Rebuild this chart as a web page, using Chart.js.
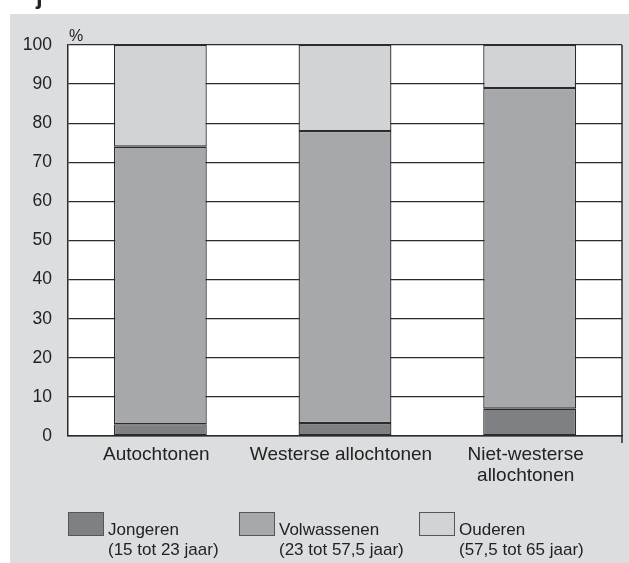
<!DOCTYPE html>
<html>
<head>
<meta charset="utf-8">
<script src="https://cdn.jsdelivr.net/npm/chart.js@4.4.0/dist/chart.umd.min.js"></script>
<style>
    html, body { margin: 0; padding: 0; background: #fff; }
    #wrap { width: 629px; height: 563px; }
</style>
</head>
<body>
<div id="wrap"><canvas id="chart" width="629" height="563"></canvas></div>
<script>
// categorieën en waarden (% per groep)
const categories = ['Autochtonen', 'Westerse allochtonen', ['Niet-westerse', 'allochtonen']];
const jongeren = [3, 3.3, 7];
const volwassenen = [71, 74.7, 82];
const ouderen = [26, 22, 11];

const seriesNames = ['Jongeren', 'Volwassenen', 'Ouderen'];
const seriesSub = ['(15 tot 23 jaar)', '(23 tot 57,5 jaar)', '(57,5 tot 65 jaar)'];
const seriesColors = ['#7f8083', '#a7a8ab', '#d2d3d5'];

const FONT = 'Arial, "Liberation Sans", sans-serif';
const DARK = '#2b2b2b';

// achtergrond: grijs vlak en wit plotgebied
const backgroundPlugin = {
    id: 'background',
    beforeDraw(chart) {
        const ctx = chart.ctx;
        const area = chart.chartArea;
        ctx.save();
        ctx.fillStyle = '#ffffff';
        ctx.fillRect(0, 0, chart.width, chart.height);
        ctx.fillStyle = '#dcdddf';
        ctx.fillRect(10, 14, chart.width - 10, chart.height - 14);
        ctx.fillStyle = '#ffffff';
        ctx.fillRect(area.left, area.top, area.right - area.left, area.bottom - area.top);
        // afgesneden titel
        ctx.fillStyle = '#222';
        ctx.font = 'bold 24px ' + FONT;
        ctx.textBaseline = 'alphabetic';
        ctx.fillText('j', 36, 4);
        ctx.restore();
    }
};

// rechterrand, %-teken en legenda
const extrasPlugin = {
    id: 'extras',
    afterDraw(chart) {
        const ctx = chart.ctx;
        const area = chart.chartArea;
        ctx.save();
        ctx.strokeStyle = DARK;
        ctx.lineWidth = 1.5;
        ctx.beginPath();
        ctx.moveTo(area.right, area.top);
        ctx.lineTo(area.right, area.bottom + 7);
        ctx.stroke();

        ctx.fillStyle = '#222';
        ctx.font = '16px ' + FONT;
        ctx.textAlign = 'left';
        ctx.textBaseline = 'alphabetic';
        ctx.fillText('%', area.left + 1, 41);

        const boxX = [68, 239, 419];
        ctx.font = '17px ' + FONT;
        seriesNames.forEach((name, i) => {
            ctx.fillStyle = seriesColors[i];
            ctx.fillRect(boxX[i], 512, 35, 23);
            ctx.strokeStyle = '#555';
            ctx.lineWidth = 1;
            ctx.strokeRect(boxX[i] + 0.5, 512.5, 35, 23);
            ctx.fillStyle = '#222';
            ctx.fillText(name, boxX[i] + 40, 535);
            ctx.fillText(seriesSub[i], boxX[i] + 40, 555);
        });
        ctx.restore();
    }
};

function makeDataset(label, values, color) {
    return {
        label: label,
        data: values,
        backgroundColor: color,
        borderColor: DARK,
        borderWidth: 1.3,
        borderSkipped: false,
        categoryPercentage: 1,
        barPercentage: 0.503
    };
}

const ctx = document.getElementById('chart').getContext('2d');
new Chart(ctx, {
    type: 'bar',
    data: {
        labels: categories,
        datasets: [
            makeDataset(seriesNames[0], jongeren, seriesColors[0]),
            makeDataset(seriesNames[1], volwassenen, seriesColors[1]),
            makeDataset(seriesNames[2], ouderen, seriesColors[2])
        ]
    },
    options: {
        responsive: false,
        animation: false,
        devicePixelRatio: 1,
        layout: { padding: { left: 10, right: 7, top: 45, bottom: 0 } },
        plugins: {
            legend: { display: false },
            tooltip: { enabled: false }
        },
        scales: {
            x: {
                stacked: true,
                afterFit: s => { s.height = 127; },
                grid: { color: 'rgba(0,0,0,0)', drawTicks: false },
                border: { display: true, color: DARK, width: 1.5 },
                ticks: {
                    color: '#222',
                    padding: 8,
                    labelOffset: -4,
                    maxRotation: 0,
                    autoSkip: false,
                    font: { family: FONT, size: 19, lineHeight: 1.1 }
                }
            },
            y: {
                stacked: true,
                min: 0,
                max: 100,
                afterFit: s => { s.width = 58; },
                grid: { color: DARK, lineWidth: 1.3, drawTicks: false },
                border: { display: true, color: DARK, width: 1.5 },
                ticks: {
                    stepSize: 10,
                    color: '#222',
                    padding: 16,
                    font: { family: FONT, size: 17.5 }
                }
            }
        }
    },
    plugins: [backgroundPlugin, extrasPlugin]
});
</script>
</body>
</html>
